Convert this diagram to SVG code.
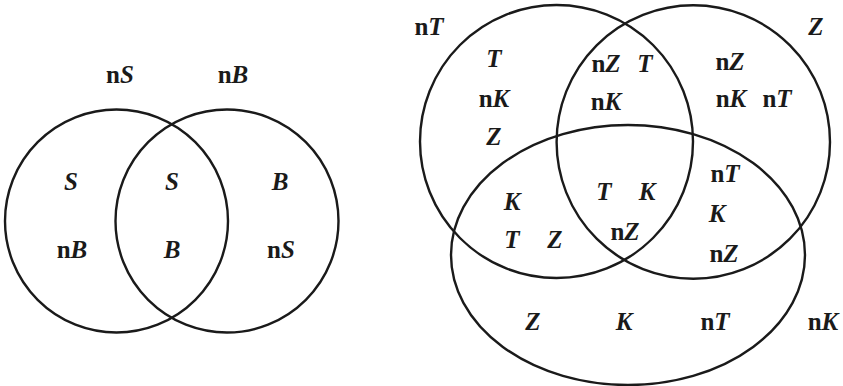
<svg xmlns="http://www.w3.org/2000/svg" width="843" height="386" viewBox="0 0 843 386">
<style>
.c{fill:none;stroke:#1a1a1a;stroke-width:2.4}
text{font-family:"Liberation Serif","Times New Roman",serif;font-weight:bold;font-size:25px;fill:#1a1a1a;text-anchor:middle}
.i{font-style:italic}
</style>
<rect width="843" height="386" fill="#fff"/>
<g id="venn2">
<g id="circleS"><circle class="c" cx="116.5" cy="221" r="111.5"/></g>
<g id="circleB"><circle class="c" cx="227" cy="221" r="111.5"/></g>
<g id="labels2">
<text x="120" y="83">n<tspan class="i">S</tspan></text>
<text x="233" y="83">n<tspan class="i">B</tspan></text>
<text x="71" y="190" class="i">S</text>
<text x="172" y="190" class="i">S</text>
<text x="280" y="190" class="i">B</text>
<text x="72" y="258">n<tspan class="i">B</tspan></text>
<text x="172" y="258" class="i">B</text>
<text x="281" y="258">n<tspan class="i">S</tspan></text>
</g>
</g>
<g id="venn3">
<g id="circleT"><circle class="c" cx="556.5" cy="141.5" r="136.5"/></g>
<g id="circleZ"><circle class="c" cx="693.3" cy="142" r="136.7"/></g>
<g id="ellipseK"><ellipse class="c" cx="628" cy="255" rx="177" ry="130"/></g>
<g id="labels3">
<text x="429" y="35">n<tspan class="i">T</tspan></text>
<text x="816" y="35" class="i">Z</text>
<text x="494" y="67" class="i">T</text>
<text x="494" y="107">n<tspan class="i">K</tspan></text>
<text x="494" y="145" class="i">Z</text>
<text x="606" y="72">n<tspan class="i">Z</tspan></text>
<text x="645" y="72" class="i">T</text>
<text x="606" y="110">n<tspan class="i">K</tspan></text>
<text x="730" y="70">n<tspan class="i">Z</tspan></text>
<text x="731" y="107">n<tspan class="i">K</tspan></text>
<text x="777" y="107">n<tspan class="i">T</tspan></text>
<text x="725" y="182">n<tspan class="i">T</tspan></text>
<text x="604" y="200" class="i">T</text>
<text x="647" y="200" class="i">K</text>
<text x="512" y="210" class="i">K</text>
<text x="717" y="222" class="i">K</text>
<text x="625" y="240">n<tspan class="i">Z</tspan></text>
<text x="512" y="248" class="i">T</text>
<text x="555" y="248" class="i">Z</text>
<text x="724" y="262">n<tspan class="i">Z</tspan></text>
<text x="533" y="330" class="i">Z</text>
<text x="624" y="330" class="i">K</text>
<text x="715" y="330">n<tspan class="i">T</tspan></text>
<text x="823" y="330">n<tspan class="i">K</tspan></text>
</g>
</g>
</svg>
